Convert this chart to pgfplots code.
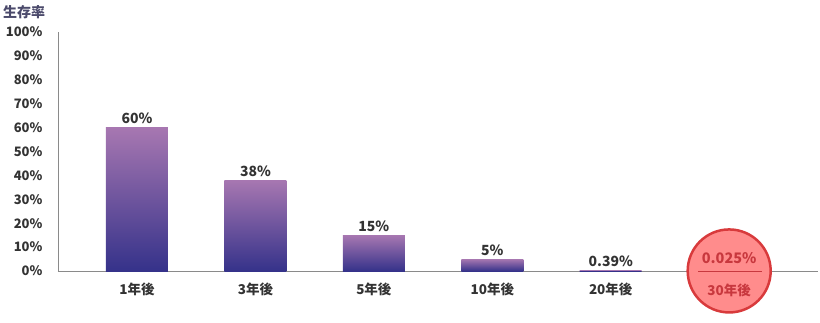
\documentclass[border=0pt]{standalone}
\usepackage{fontspec}
\setmainfont{Noto Sans CJK JP}
\usepackage{pgfplots}
\pgfplotsset{compat=1.18}
\definecolor{barTop}{HTML}{A777B1}
\definecolor{barBot}{HTML}{35328A}
\definecolor{tickText}{HTML}{333333}
\definecolor{ylab}{HTML}{4B4A6B}
\definecolor{circFill}{HTML}{FF8C8C}
\definecolor{circEdge}{HTML}{D83A3C}
\definecolor{circText}{HTML}{C8383E}
\definecolor{axisGray}{HTML}{8A8A8A}

\pgfplotsset{
  survbar/.style={ybar, bar width=62bp, bar shift=0pt, draw=none,
    top color=barTop, bottom color=barBot,
    nodes near coords, point meta=explicit symbolic,
    every node near coord/.append style={font=\fontsize{14bp}{16bp}\selectfont\bfseries, text=tickText}},
}

\begin{document}
\begin{tikzpicture}
\path[use as bounding box] (-58bp,-52bp) rectangle (762bp,271bp);
\begin{axis}[
  at={(0,0)}, anchor=south west,
  scale only axis, width=760bp, height=239bp,
  xmin=-0.667, xmax=5.75, ymin=0, ymax=100,
  axis x line*=bottom, axis y line*=left,
  axis line style={draw=axisGray, line width=0.8bp, -},
  major tick length=0pt,
  xtick={0,1,2,3,4},
  xticklabels={1年後,3年後,5年後,10年後,20年後},
  ytick={0,10,...,100},
  yticklabels={0\%,10\%,20\%,30\%,40\%,50\%,60\%,70\%,80\%,90\%,100\%},
  tick label style={font=\fontsize{13bp}{15bp}\selectfont\bfseries, text=tickText},
  xticklabel style={yshift=-8bp, font=\fontsize{13.5bp}{15bp}\selectfont\bfseries},
  yticklabel style={xshift=-12bp},
  /pgf/number format/assume math mode=true,
  clip=false,
]
% one plot per bar so that each bar carries its own gradient
\addplot[survbar] coordinates {(0,60)[60\%]};
\addplot[survbar] coordinates {(1,38)[38\%]};
\addplot[survbar] coordinates {(2,15)[15\%]};
\addplot[survbar] coordinates {(3,5)[5\%]};
\addplot[survbar] coordinates {(4,0.39)[0.39\%]};
% 30-year value highlighted in a red disc
\addplot[only marks, mark=*, mark size=41.5bp,
  mark options={fill=circFill, draw=circEdge, line width=2.5bp}]
  coordinates {(5,0.025)};
\coordinate (c30) at (axis cs:5,0);
\end{axis}
\node[font=\fontsize{14.5bp}{16bp}\selectfont\bfseries, text=circText]
  at ([yshift=13bp]c30) {0.025\%};
\draw[circText, line width=0.8bp] ([xshift=-31bp]c30) -- ([xshift=33bp]c30);
\node[font=\fontsize{13.5bp}{15bp}\selectfont\bfseries, text=circText]
  at ([yshift=-19bp]c30) {30年後};
\node[anchor=west, inner sep=0pt, font=\fontsize{14bp}{16bp}\selectfont\bfseries, text=ylab]
  at (-55bp,259bp) {生存率};
\end{tikzpicture}
\end{document}
